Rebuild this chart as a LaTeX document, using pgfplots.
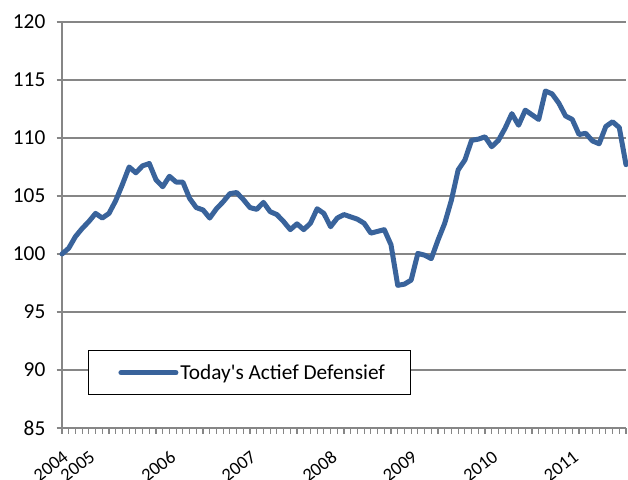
\documentclass[border=0pt]{standalone}
\usepackage{fontspec}
\setmainfont{Carlito}
\usepackage{pgfplots}
\pgfplotsset{compat=1.18}
\definecolor{serblue}{RGB}{57,99,155}
\definecolor{gridgray}{RGB}{134,134,134}
\pgfplotstableread{
i v
0 100.0
1 100.5
2 101.5
3 102.2
4 102.8
5 103.5
6 103.1
7 103.5
8 104.6
9 106.0
10 107.5
11 107.0
12 107.6
13 107.8
14 106.4
15 105.8
16 106.7
17 106.2
18 106.2
19 104.8
20 104.0
21 103.8
22 103.1
23 103.9
24 104.5
25 105.2
26 105.3
27 104.7
28 104.0
29 103.85
30 104.45
31 103.65
32 103.4
33 102.8
34 102.1
35 102.6
36 102.1
37 102.65
38 103.9
39 103.5
40 102.35
41 103.1
42 103.4
43 103.2
44 103.0
45 102.65
46 101.8
47 101.95
48 102.1
49 100.8
50 97.3
51 97.4
52 97.75
53 100.05
54 99.9
55 99.6
56 101.2
57 102.65
58 104.65
59 107.25
60 108.1
61 109.8
62 109.9
63 110.1
64 109.25
65 109.8
66 110.85
67 112.1
68 111.1
69 112.4
70 112.0
71 111.6
72 114.05
73 113.8
74 113.0
75 111.9
76 111.6
77 110.3
78 110.4
79 109.75
80 109.5
81 111.0
82 111.4
83 110.9
84 107.7
}\datatable
\begin{document}
\begin{tikzpicture}
\useasboundingbox (0,0) rectangle (628pt,479pt);
\begin{axis}[
  at={(62pt,51pt)}, anchor=south west,
  scale only axis, width=564pt, height=406pt,
  xmin=0, xmax=84, ymin=85, ymax=120,
  axis x line*=bottom, axis y line*=left,
  axis line style={draw=gridgray, line width=1.5pt},
  ytick={85,90,...,120},
  xtick={0,4,16,28,40,52,64,76},
  xticklabels={2004,2005,2006,2007,2008,2009,2010,2011},
  minor xtick={0,...,84},
  tick align=outside,
  major tick length=5.5pt, minor tick length=5.5pt,
  tick style={draw=gridgray, line width=1.2pt},
  ymajorgrids, grid style={draw=gridgray, line width=1.5pt},
  /pgf/number format/assume math mode=true,
  tick label style={font=\fontsize{21.3}{25}\selectfont},
  xticklabel style={font=\fontsize{18.5}{22}\selectfont, rotate=38, anchor=north east, inner sep=1pt, xshift=-9pt, yshift=-11.5pt},
  yticklabel style={inner xsep=4pt, xshift=-7pt},
  clip=false,
  legend style={at={(0.046,0.192)}, anchor=north west, draw=black, line width=1pt,
    fill=white, inner xsep=24pt, inner ysep=12pt,
    font=\fontsize{21.3}{25}\selectfont, nodes={inner xsep=2pt}},
  legend cell align=left,
  legend image code/.code={\path (0pt,0pt); \draw[#1] (6pt,0pt) -- (61pt,0pt);},
]
\addplot[serblue, line width=5pt, line join=round, line cap=round] table[x=i, y=v] {\datatable};
\addlegendentry{Today\textquotesingle s Actief Defensief}
\end{axis}
\end{tikzpicture}
\end{document}
